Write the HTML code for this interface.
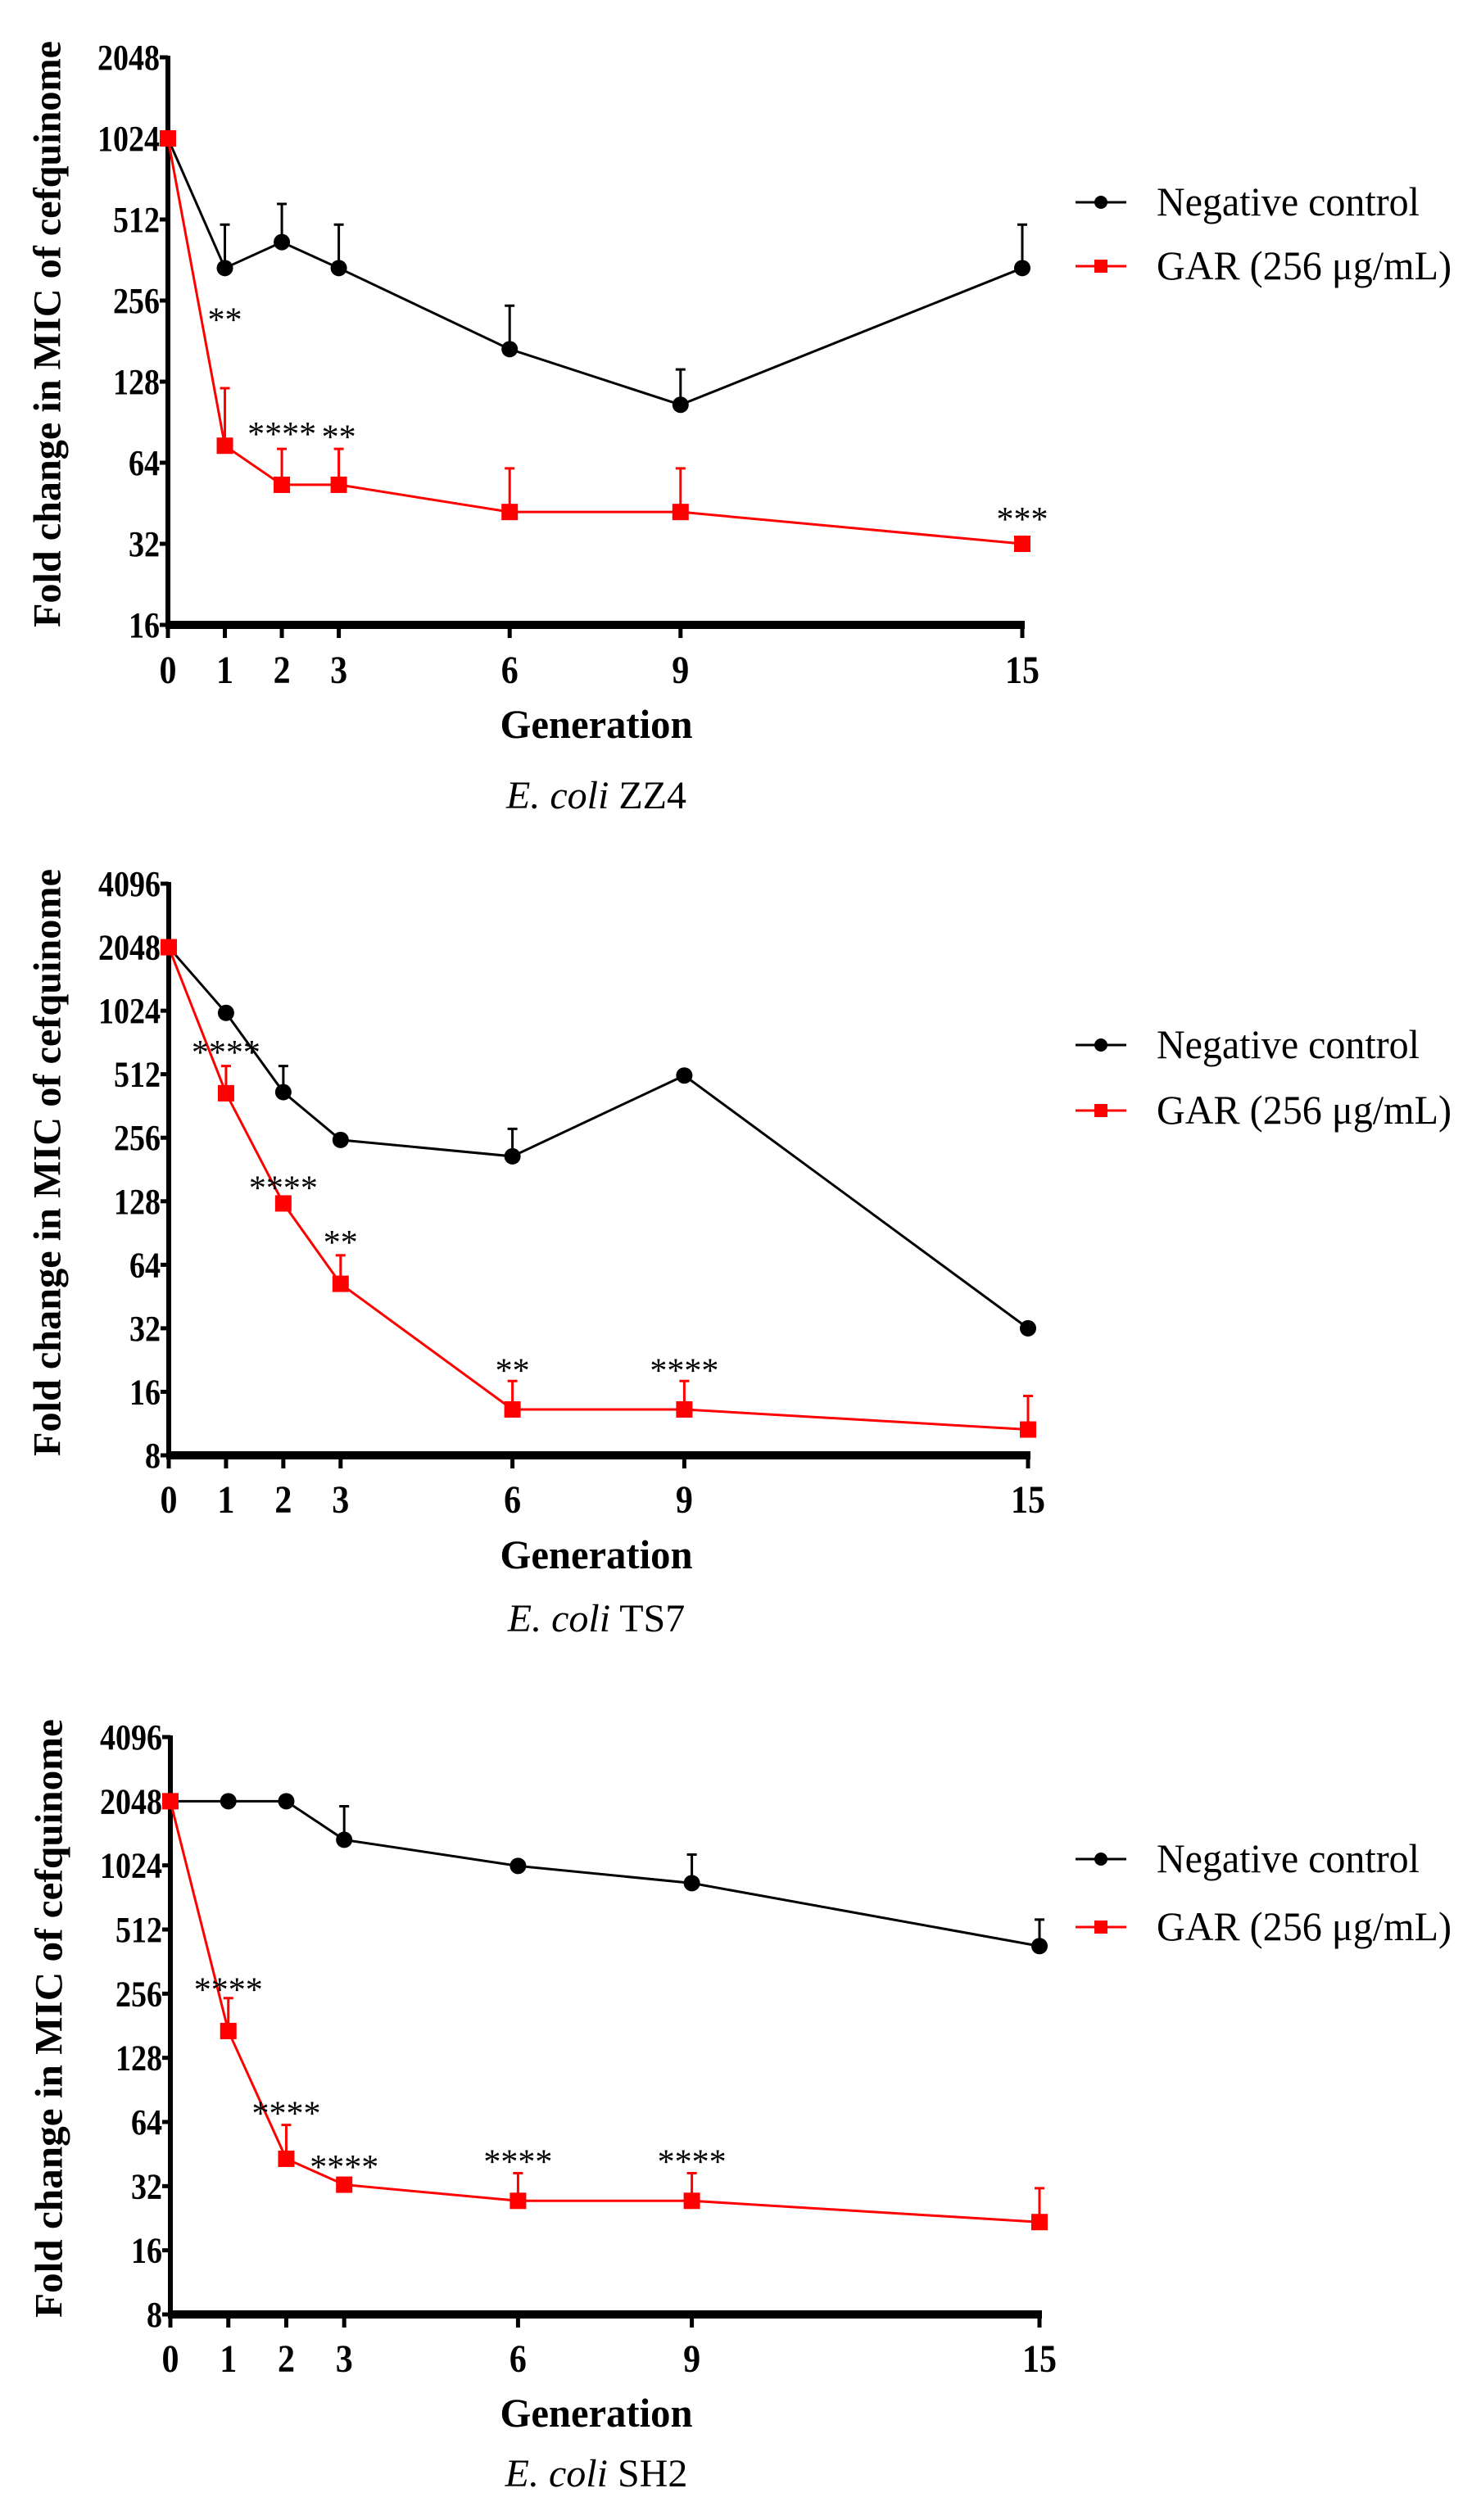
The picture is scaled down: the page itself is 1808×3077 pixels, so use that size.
<!DOCTYPE html>
<html><head><meta charset="utf-8"><style>
html,body{margin:0;padding:0;background:#fff;}
svg{display:block;}
</style></head>
<body>
<svg id="fig" width="1808" height="3077" viewBox="0 0 1808 3077" xmlns="http://www.w3.org/2000/svg"></svg>
<script>
// ---- shared categories ----
const generations = [0, 1, 2, 3, 6, 9, 15];
const xTickLabels = ["0", "1", "2", "3", "6", "9", "15"];
const seriesNames = ["Negative control", "GAR (256 μg/mL)"];

// ---- Chart 1: E. coli ZZ4 ----
const zz4Ticks = [16, 32, 64, 128, 256, 512, 1024, 2048];
const zz4Neg = [1024, 338, 422, 338, 169, 105, 338];
const zz4NegErr = [1024, 490, 585, 490, 245, 142, 490];
const zz4Gar = [1024, 74, 53, 53, 42, 42, 32];
const zz4GarErr = [1024, 121, 72, 72, 61, 61, 32];
const zz4Stars = ["", "**", "****", "**", "", "", "***"];
const zz4StarLevel = [0, 220, 83, 81, 0, 0, 40];

// ---- Chart 2: E. coli TS7 ----
const ts7Ticks = [8, 16, 32, 64, 128, 256, 512, 1024, 2048, 4096];
const ts7Neg = [2048, 1000, 421, 250, 209, 505, 32];
const ts7NegErr = [2048, 1000, 560, 250, 282, 505, 32];
const ts7Gar = [2048, 416, 125, 52, 13.2, 13.2, 10.6];
const ts7GarErr = [2048, 560, 125, 71, 18, 18, 15.3];
const ts7Stars = ["", "****", "****", "**", "**", "****", ""];
const ts7StarLevel = [0, 662, 151, 83, 20.5, 20.5, 0];

// ---- Chart 3: E. coli SH2 ----
const sh2Ticks = [8, 16, 32, 64, 128, 256, 512, 1024, 2048, 4096];
const sh2Neg = [2048, 2048, 2048, 1350, 1018, 845, 428];
const sh2NegErr = [2048, 2048, 2048, 1940, 1018, 1150, 570];
const sh2Gar = [2048, 171, 43, 32.5, 27.3, 27.3, 21.7];
const sh2GarErr = [2048, 244, 62, 32.5, 36.8, 36.8, 31.3];
const sh2Stars = ["", "****", "****", "****", "****", "****", ""];
const sh2StarLevel = [0, 272, 71.5, 40, 42.5, 42.5, 0];

const NS = "http://www.w3.org/2000/svg";
const svg = document.getElementById("fig");
function mk(tag, attrs, parent) {
  const e = document.createElementNS(NS, tag);
  for (const k in attrs) e.setAttribute(k, attrs[k]);
  (parent || svg).appendChild(e);
  return e;
}

function drawChart(cfg) {
  const g = mk("g", {});
  
  
  const lo = Math.log2(cfg.ticks[0]), hi = Math.log2(cfg.ticks[cfg.ticks.length - 1]);
  const xScale = v => cfg.x0 + (v - 0) / 15 * (cfg.x1 - cfg.x0);
  const yScale = v => cfg.yBot - (Math.log2(v) - lo) / (hi - lo) * (cfg.yBot - cfg.yTop);
  const serif = '"Liberation Serif", serif';

  const yt = mk("text", {x: 0, y: 0, transform: `translate(${cfg.titleX},${(cfg.titleY0 + cfg.titleY1) / 2}) rotate(-90)`,
    "text-anchor": "middle", "dominant-baseline": "central", "font-family": serif, "font-weight": "bold",
    "font-size": 48, textLength: cfg.titleY1 - cfg.titleY0, lengthAdjust: "spacingAndGlyphs", fill: "#000"}, g);
  yt.textContent = "Fold change in MIC of cefquinome";
  
  

  cfg.ticks.forEach(t => {
    const y = yScale(t);
    const tk = mk("line", {x1: cfg.x0 - 10, x2: cfg.x0, y1: y, y2: y, stroke: "#000", "stroke-width": 5}, g);
    
    
    const s = String(t);
    const lb = mk("text", {x: cfg.x0 - 10, y: y + 15, "text-anchor": "end", "font-family": serif, "font-weight": "bold",
      "font-size": 44, textLength: s.length * 19, lengthAdjust: "spacingAndGlyphs", fill: "#000"}, g);
    lb.textContent = s;
    
    
  });

  generations.forEach((gv, i) => {
    const x = xScale(gv);
    const tk = mk("line", {x1: x, x2: x, y1: cfg.yBot, y2: cfg.yBot + 16, stroke: "#000", "stroke-width": 5}, g);
    
    
    const s = xTickLabels[i];
    const lb = mk("text", {x: x, y: cfg.tickLabelY + 16, "text-anchor": "middle", "font-family": serif, "font-weight": "bold",
      "font-size": 48, textLength: s.length * 21, lengthAdjust: "spacingAndGlyphs", fill: "#000"}, g);
    lb.textContent = s;
    
    
  });

  const ya = mk("line", {x1: cfg.x0, x2: cfg.x0, y1: cfg.yTop - 2, y2: cfg.yBot + 4, stroke: "#000", "stroke-width": 6}, g);
  
  
  const xa = mk("line", {x1: cfg.x0 - 3, x2: cfg.x1 + 3, y1: cfg.yBot, y2: cfg.yBot, stroke: "#000", "stroke-width": 10}, g);
  
  

  const xt = mk("text", {x: 728, y: cfg.genY + 17, "text-anchor": "middle", "font-family": serif, "font-weight": "bold",
    "font-size": 50, textLength: 235, lengthAdjust: "spacingAndGlyphs", fill: "#000"}, g);
  xt.textContent = "Generation";
  
  

  const st = mk("text", {x: 728, y: cfg.subY + 17, "text-anchor": "middle", "font-family": serif,
    "font-size": 48, fill: "#000"}, g);
  const it = mk("tspan", {"font-style": "italic"}, st); it.textContent = "E. coli";
  const rt = mk("tspan", {}, st); rt.textContent = " " + cfg.strain;
  
  

  const series = [
    {vals: cfg.neg, err: cfg.negErr, color: "#000", marker: "circle", nm: "negative-control"},
    {vals: cfg.gar, err: cfg.garErr, color: "#ff0000", marker: "square", nm: "gar"}
  ];
  series.forEach(s => {
    s.vals.forEach((v, i) => {
      if (s.err[i] > v * 1.02) {
        const x = xScale(generations[i]), y1 = yScale(v), y2 = yScale(s.err[i]);
        const eb = mk("path", {d: `M${x},${y1}V${y2}M${x - 6},${y2}H${x + 6}`, stroke: s.color, "stroke-width": 3, fill: "none"}, g);
        
        
      }
    });
    const pts = s.vals.map((v, i) => xScale(generations[i]) + "," + yScale(v)).join(" ");
    const pl = mk("polyline", {points: pts, fill: "none", stroke: s.color, "stroke-width": 3}, g);
    
    
    s.vals.forEach((v, i) => {
      const x = xScale(generations[i]), y = yScale(v);
      let m;
      if (s.marker === "circle") m = mk("circle", {cx: x, cy: y, r: 10, fill: s.color}, g);
      else m = mk("rect", {x: x - 10, y: y - 10, width: 20, height: 20, fill: s.color}, g);
      
      
    });
  });

  cfg.stars.forEach((s, i) => {
    if (!s) return;
    const x = xScale(generations[i]);
    const y = yScale(cfg.starLevel[i]);
    const t = mk("text", {x: x, y: y + 16, "text-anchor": "middle", "font-family": serif, "font-size": 42, fill: "#000"}, g);
    t.textContent = s;
    
    
  });

  const lg = mk("g", {}, g);
  
  
  [cfg.legY0, cfg.legY1].forEach((ly, k) => {
    const col = k === 0 ? "#000" : "#ff0000";
    const e = mk("g", {}, lg);
    
    
    mk("line", {x1: 1313, x2: 1375, y1: ly, y2: ly, stroke: col, "stroke-width": 3}, e);
    if (k === 0) mk("circle", {cx: 1344, cy: ly, r: 8, fill: col}, e);
    else mk("rect", {x: 1336, y: ly - 8, width: 16, height: 16, fill: col}, e);
    const t = mk("text", {x: 1412, y: ly + 16, "font-family": serif, "font-size": 50, fill: "#000",
      textLength: k === 0 ? 321 : 360, lengthAdjust: "spacingAndGlyphs"}, e);
    t.textContent = seriesNames[k];
  });
}

drawChart({name: "chart-zz4", strain: "ZZ4", ticks: zz4Ticks, neg: zz4Neg, negErr: zz4NegErr, gar: zz4Gar, garErr: zz4GarErr, stars: zz4Stars, starLevel: zz4StarLevel,
  x0: 205, x1: 1248, yTop: 70, yBot: 763, tickLabelY: 818, genY: 884, subY: 970,
  titleX: 58, titleY0: 50, titleY1: 766, legY0: 247, legY1: 325});
drawChart({name: "chart-ts7", strain: "TS7", ticks: ts7Ticks, neg: ts7Neg, negErr: ts7NegErr, gar: ts7Gar, garErr: ts7GarErr, stars: ts7Stars, starLevel: ts7StarLevel,
  x0: 206, x1: 1255, yTop: 1079, yBot: 1777, tickLabelY: 1831, genY: 1898, subY: 1975,
  titleX: 58, titleY0: 1061, titleY1: 1778, legY0: 1276, legY1: 1356});
drawChart({name: "chart-sh2", strain: "SH2", ticks: sh2Ticks, neg: sh2Neg, negErr: sh2NegErr, gar: sh2Gar, garErr: sh2GarErr, stars: sh2Stars, starLevel: sh2StarLevel,
  x0: 208, x1: 1269, yTop: 2121, yBot: 2826, tickLabelY: 2880, genY: 2946, subY: 3019,
  titleX: 60, titleY0: 2099, titleY1: 2830, legY0: 2270, legY1: 2353});
</script>
</body></html>
